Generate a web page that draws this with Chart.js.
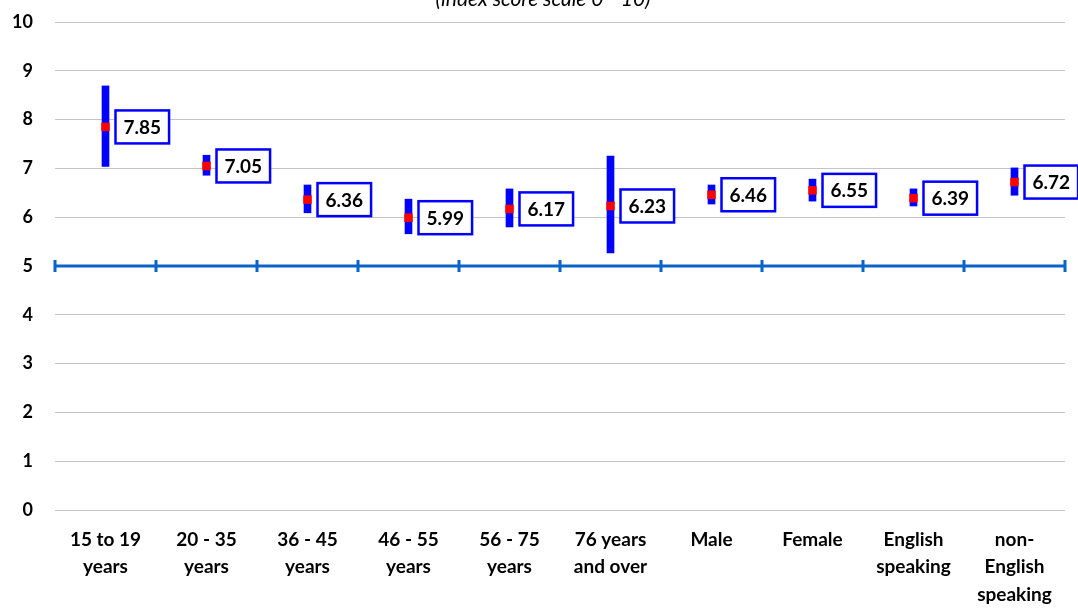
<!DOCTYPE html>
<html>
<head>
<meta charset="utf-8">
<script src="https://cdn.jsdelivr.net/npm/chart.js@4.4.1/dist/chart.umd.min.js"></script>
<style>
  html, body { margin: 0; padding: 0; background: #fff; }
  #wrap { width: 1078px; height: 609px; }
</style>
</head>
<body>
<div id="wrap"><canvas id="chart"></canvas></div>
<script>
// chart values
const categories = [
  ['15 to 19', 'years'], ['20 - 35', 'years'], ['36 - 45', 'years'], ['46 - 55', 'years'],
  ['56 - 75', 'years'], ['76 years', 'and over'], 'Male', 'Female',
  ['English', 'speaking'], ['non-', 'English', 'speaking']
];
const means = [7.85, 7.05, 6.36, 5.99, 6.17, 6.23, 6.46, 6.55, 6.39, 6.72];
const lower = [7.04, 6.86, 6.09, 5.66, 5.80, 5.27, 6.27, 6.33, 6.23, 6.45];
const upper = [8.69, 7.27, 6.66, 6.37, 6.58, 7.25, 6.66, 6.78, 6.58, 7.01];
const yTicks = [0, 1, 2, 3, 4, 5, 6, 7, 8, 9, 10];
const baseline = 5;
const titleText = '(index score scale 0 - 10)';

const FONT = 'Lato, "Open Sans", sans-serif';

// blue line at 5 with tick marks, plus the value boxes and the cut-off title
const extras = {
  id: 'extras',
  afterDatasetsDraw(chart) {
    const ctx = chart.ctx;
    const ys = chart.scales.y;
    const area = chart.chartArea;
    const y5 = ys.getPixelForValue(baseline);

    ctx.save();
    ctx.strokeStyle = '#0a64c8';
    ctx.lineWidth = 3;
    ctx.beginPath();
    ctx.moveTo(area.left, y5);
    ctx.lineTo(area.right, y5);
    const step = (area.right - area.left) / categories.length;
    for (let i = 0; i <= categories.length; i++) {
      const tx = Math.round(area.left + i * step);
      ctx.moveTo(tx, y5 - 6);
      ctx.lineTo(tx, y5 + 6);
    }
    ctx.stroke();
    ctx.restore();
  },
  afterDraw(chart) {
    const ctx = chart.ctx;
    const xs = chart.scales.x, ys = chart.scales.y;
    ctx.save();
    ctx.font = 'bold 19px ' + FONT;
    ctx.textBaseline = 'middle';
    means.forEach((m, i) => {
      const cx = xs.getPixelForValue(i);
      const cy = ys.getPixelForValue(m);
      const txt = m.toFixed(2);
      const w = ctx.measureText(txt).width + 16;
      const h = 33;
      const bx = cx + 10, by = cy - h / 2;
      ctx.fillStyle = '#fff';
      ctx.fillRect(bx, by, w, h);
      ctx.strokeStyle = '#0000ff';
      ctx.lineWidth = 2.5;
      ctx.strokeRect(bx, by, w, h);
      ctx.fillStyle = '#000';
      ctx.textAlign = 'center';
      ctx.fillText(txt, bx + w / 2, cy + 1);
    });
    // title, mostly above the canvas edge as in the picture
    ctx.font = 'italic 21px ' + FONT;
    ctx.fillStyle = '#000';
    ctx.textAlign = 'center';
    ctx.textBaseline = 'middle';
    ctx.fillText(titleText, 543, -1);
    ctx.restore();
  }
};

const ctx = document.getElementById('chart').getContext('2d');
new Chart(ctx, {
  type: 'bar',
  data: {
    labels: categories,
    datasets: [
      {
        type: 'line',
        label: 'Mean',
        data: means,
        showLine: false,
        pointStyle: 'rect',
        pointRadius: 6,
        pointBackgroundColor: '#ff0000',
        pointBorderWidth: 0,
        order: 0
      },
      {
        label: 'Range',
        data: lower.map((l, i) => [l, upper[i]]),
        backgroundColor: '#0000ff',
        barThickness: 7,
        order: 1
      }
    ]
  },
  options: {
    responsive: true,
    maintainAspectRatio: false,
    animation: false,
    layout: { padding: { top: 22, right: 13, left: 0, bottom: 0 } },
    plugins: {
      legend: { display: false },
      tooltip: { enabled: false }
    },
    scales: {
      x: {
        grid: { display: false },
        border: { display: false },
        ticks: {
          color: '#000',
          font: { family: FONT, size: 19, weight: 'bold', lineHeight: 1.45 },
          maxRotation: 0,
          autoSkip: false,
          padding: 8
        },
        afterFit(scale) {
          scale.height = 99;
          scale.paddingTop = 0;
          scale.paddingBottom = 0;
        }
      },
      y: {
        min: 0,
        max: 10,
        afterBuildTicks(scale) { scale.ticks = yTicks.map(v => ({ value: v })); },
        grid: { color: '#c4c4c4', lineWidth: 1, drawTicks: false },
        border: { display: false },
        ticks: {
          color: '#000',
          font: { family: FONT, size: 18, weight: 'bold' },
          padding: 22
        },
        afterFit(scale) {
          scale.width = 55;
          scale.paddingTop = 0;
          scale.paddingBottom = 0;
        }
      }
    }
  },
  plugins: [extras]
});
</script>
</body>
</html>
